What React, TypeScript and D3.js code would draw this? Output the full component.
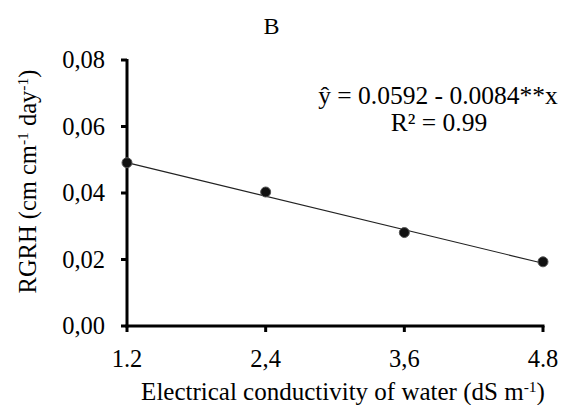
import React from "react";
import * as d3 from "d3";

const conductivity = [1.2, 2.4, 3.6, 4.8];
const rgrh = [0.0491, 0.0403, 0.0281, 0.0193];
const xTickValues = [1.2, 2.4, 3.6, 4.8];
const xTickLabels = ["1.2", "2,4", "3,6", "4.8"];
const yTickValues = [0, 0.02, 0.04, 0.06, 0.08];
const yTickLabels = ["0,00", "0,02", "0,04", "0,06", "0,08"];
const intercept = 0.0592;
const slope = -0.0084;

const W = 566;
const H = 405;
const ts = { fontFamily: "Liberation Serif" };

export default function App() {
  const x = d3.scaleLinear().domain([1.2, 4.8]).range([127, 543]);
  const y = d3.scaleLinear().domain([0, 0.08]).range([326, 60]);
  const fit = d3
    .line<number>()
    .x((d) => x(d))
    .y((d) => y(intercept + slope * d));

  return (
    <svg
      width={W}
      height={H}
      style={{ position: "absolute", left: 0, top: 0, background: "#fff" }}
    >
      <text x={271.5} y={34} fontSize={24} textAnchor="middle" fill="#000" style={ts}>
        B
      </text>

      {/* y axis */}
      <line x1={x(1.2)} x2={x(1.2)} y1={y(0.08) - 1} y2={y(0) + 1.5} stroke="#000" strokeWidth={3} />
      {yTickValues.map((v, i) => (
        <g key={"y" + i}>
          <line x1={x(1.2) - 6} x2={x(1.2)} y1={y(v)} y2={y(v)} stroke="#000" strokeWidth={3} />
          <text x={105} y={y(v)} dy="0.33em" fontSize={24.5} textAnchor="end" fill="#000" style={ts}>
            {yTickLabels[i]}
          </text>
        </g>
      ))}

      {/* x axis */}
      <line x1={x(1.2) - 1.5} x2={x(4.8) + 1.5} y1={y(0)} y2={y(0)} stroke="#000" strokeWidth={3} />
      {xTickValues.map((v, i) => (
        <g key={"x" + i}>
          <line x1={x(v)} x2={x(v)} y1={y(0)} y2={y(0) + 6} stroke="#000" strokeWidth={3} />
          <text x={x(v)} y={367} fontSize={24.5} textAnchor="middle" fill="#000" style={ts}>
            {xTickLabels[i]}
          </text>
        </g>
      ))}

      {/* fitted line */}
      <path d={fit([1.2, 4.8]) || ""} fill="none" stroke="#222" strokeWidth={1.2} />

      {/* points */}
      {conductivity.map((c, i) => (
        <circle key={"p" + i} cx={x(c)} cy={y(rgrh[i])} r={5} fill="#111" stroke="#555" strokeWidth={1} />
      ))}

      {/* equation */}
      <text x={438} y={104} fontSize={25.5} textAnchor="middle" fill="#000" style={ts}>
        ŷ = 0.0592 - 0.0084**x
      </text>
      <text x={439} y={131} fontSize={25.5} textAnchor="middle" fill="#000" style={ts}>
        R² = 0.99
      </text>

      {/* x label */}
      <text x={343} y={400} fontSize={25} textAnchor="middle" fill="#000" style={ts}>
        Electrical conductivity of water (dS m
        <tspan baselineShift="super" fontSize={15.5}>-1</tspan>
        )
      </text>

      {/* y label */}
      <text
        transform={`translate(36,181.5) rotate(-90)`}
        fontSize={24.5}
        textAnchor="middle"
        fill="#000"
        style={ts}
      >
        RGRH (cm cm
        <tspan baselineShift="super" fontSize={15.5}>-1</tspan>
        {" day"}
        <tspan baselineShift="super" fontSize={15.5}>-1</tspan>
        )
      </text>
    </svg>
  );
}
